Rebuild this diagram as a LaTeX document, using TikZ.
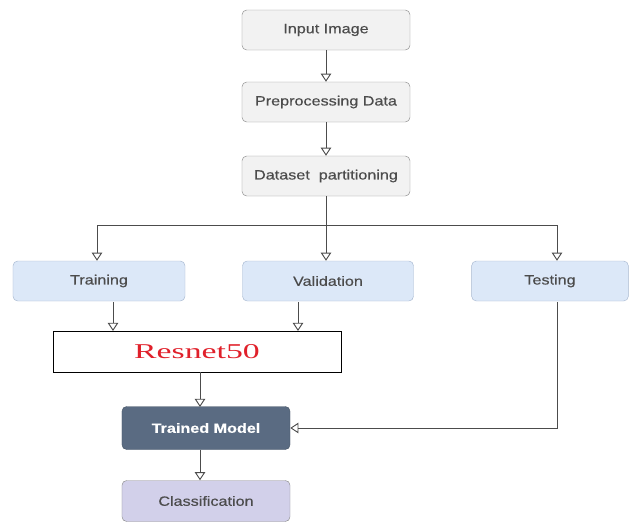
\documentclass[tikz,border=0pt]{standalone}
\usepackage{fontspec}
\setmainfont[FakeStretch=1.2, FakeBold=0.4]{Liberation Sans}
\newfontfamily\serifrm[FakeStretch=1.6]{Liberation Serif}
\usetikzlibrary{arrows.meta}
\definecolor{grayfill}{HTML}{F2F2F2}
\definecolor{grayline}{HTML}{8C8C8C}
\definecolor{bluefill}{HTML}{DCE8F8}
\definecolor{blueline}{HTML}{A8B8D0}
\definecolor{modelfill}{HTML}{5A6B82}
\definecolor{classfill}{HTML}{D2D0EA}
\definecolor{resred}{HTML}{E0202A}
\tikzset{
  box/.style={draw=grayline, fill=grayfill, rounded corners=4pt, minimum width=5.04cm, minimum height=1.2cm, font=\fontsize{11.5}{13}\selectfont, text=black!70},
  bluebox/.style={box, draw=blueline, fill=bluefill},
  flow/.style={-{Triangle[open, length=7pt, width=9pt]}, thick, black!70}
}
\begin{document}
\begin{tikzpicture}[x=0.03cm, y=-0.03cm]
\useasboundingbox (0,0) rectangle (631,523);
\node[box] (input) at (326,30) {Input Image};
\node[box] (prep) at (326,102) {Preprocessing Data};
\node[box] (part) at (326,176) {Dataset\ \ partitioning};
\node[bluebox, minimum width=5.16cm] (train) at (99,281) {Training};
\node[bluebox, minimum width=5.13cm] (valid) at (328,281) {Validation};
\node[bluebox, minimum width=4.7cm] (test) at (550,281) {Testing};
\node[draw, thick, minimum width=8.64cm, minimum height=1.23cm, font=\serifrm\fontsize{18}{20}\selectfont, text=resred] (resnet) at (197,352) {Resnet50};
\node[box, draw=modelfill!80!black, fill=modelfill, text=white, font=\fontsize{11.5}{13}\selectfont\bfseries, minimum height=1.29cm] (model) at (206,428) {Trained Model};
\node[box, draw=grayline, fill=classfill, minimum height=1.23cm] (class) at (206,501) {Classification};
\coordinate (bus) at (326,225);
\coordinate (busl) at (97,225);
\coordinate (busr) at (557,225);
\draw[flow] (input) -- (prep);
\draw[flow] (prep) -- (part);
\draw[thick, black!70] (part) -- (bus) (busl) -- (busr);
\draw[flow] (busl) -- (busl |- train.north);
\draw[flow] (bus) -- (bus |- valid.north);
\draw[flow] (busr) -- (busr |- test.north);
\draw[flow] (113,302) -- (113,331);
\draw[flow] (298,302) -- (298,331);
\draw[flow] (200,372) -- (200,407);
\draw[flow] (557,302) |- (model.east);
\draw[flow] (model.south -| 200,0) -- (class.north -| 200,0);
\end{tikzpicture}
\end{document}
